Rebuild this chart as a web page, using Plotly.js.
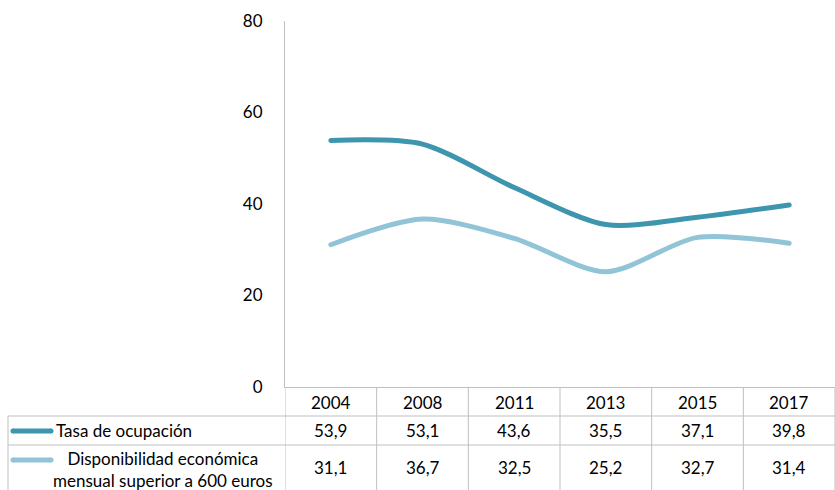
<!DOCTYPE html>
<html>
<head>
<meta charset="utf-8">
<script src="https://cdn.plot.ly/plotly-3.0.1.min.js"></script>
<style>html,body{margin:0;padding:0;background:#fff;}#chart{width:835px;height:490px;}</style>
</head>
<body>
<div id="chart"></div>
<script>
const years = ['2004', '2008', '2011', '2013', '2015', '2017'];
const tasaOcupacion = [53.9, 53.1, 43.6, 35.5, 37.1, 39.8];
const disponibilidad = [31.1, 36.7, 32.5, 25.2, 32.7, 31.4];
const seriesNames = ['Tasa de ocupación', 'Disponibilidad económica<br>mensual superior a 600 euros'];
const yTicks = [0, 20, 40, 60, 80];

const darkColor = '#3E95AE';
const lightColor = '#92C4D7';
const gridColor = '#BFBFBF';
const font = 'Lato, "Open Sans", sans-serif';
const fs = 17;

const W = 835, H = 490, L = 285, R = 0, T = 21, B = 103;
const pw = W - L - R, ph = H - T - B;
const px = x => (x - L) / pw;
const py = y => (H - B - y) / ph;

const yRow1 = 416, yRow2 = 445, yBottom = 490, xLeft = 8;

const shapes = [];
const annotations = [];
for (let i = 0; i <= years.length; i++) {
  shapes.push({type: 'line', xref: 'x', yref: 'paper', x0: i - 0.5, x1: i - 0.5,
    y0: py(387), y1: py(yBottom + 2), line: {color: gridColor, width: 1}});
}
[yRow1, yRow2].forEach(y => shapes.push({type: 'line', xref: 'paper', yref: 'paper',
  x0: px(xLeft), x1: 1, y0: py(y), y1: py(y), line: {color: gridColor, width: 1}}));
shapes.push({type: 'line', xref: 'paper', yref: 'paper', x0: px(xLeft), x1: px(xLeft),
  y0: py(yRow1), y1: py(yBottom + 2), line: {color: gridColor, width: 1}});

function key(yPix, color) {
  shapes.push({type: 'line', xref: 'paper', yref: 'paper', x0: px(13), x1: px(51),
    y0: py(yPix), y1: py(yPix), line: {color: color, width: 5}});
  [13, 51].forEach(xc => shapes.push({type: 'circle', xref: 'paper', yref: 'paper',
    x0: px(xc - 2.5), x1: px(xc + 2.5), y0: py(yPix + 2.5), y1: py(yPix - 2.5),
    fillcolor: color, line: {width: 0}}));
}
key(431, darkColor);
key(460, lightColor);

const tf = {family: font, size: fs, color: '#000'};
years.forEach((yr, i) => {
  annotations.push({x: i, y: py(402), xref: 'x', yref: 'paper', text: yr, showarrow: false,
    xanchor: 'center', yanchor: 'middle', font: tf});
  annotations.push({x: i, y: py(431), xref: 'x', yref: 'paper',
    text: tasaOcupacion[i].toFixed(1).replace('.', ','), showarrow: false,
    xanchor: 'center', yanchor: 'middle', font: tf});
  annotations.push({x: i, y: py(468), xref: 'x', yref: 'paper',
    text: disponibilidad[i].toFixed(1).replace('.', ','), showarrow: false,
    xanchor: 'center', yanchor: 'middle', font: tf});
});
annotations.push({x: px(54), y: py(431), xref: 'paper', yref: 'paper', text: seriesNames[0],
  xanchor: 'left', yanchor: 'middle', showarrow: false, font: tf});
annotations.push({x: px(163), y: py(469), xref: 'paper', yref: 'paper', text: seriesNames[1],
  xanchor: 'center', yanchor: 'middle', align: 'center', showarrow: false, font: tf});

const traces = [
  {x: years, y: tasaOcupacion, type: 'scatter', mode: 'lines', name: seriesNames[0],
    line: {color: darkColor, width: 5, shape: 'spline', smoothing: 0.8}},
  {x: years, y: disponibilidad, type: 'scatter', mode: 'lines', name: seriesNames[1],
    line: {color: lightColor, width: 5, shape: 'spline', smoothing: 0.8}}
];

const layout = {
  width: W, height: H,
  margin: {l: L, r: R, t: T, b: B},
  paper_bgcolor: '#fff', plot_bgcolor: '#fff',
  showlegend: false,
  font: tf,
  xaxis: {type: 'category', range: [-0.5, 5.5], showticklabels: false, ticks: '',
    showgrid: false, zeroline: false, showline: true, linecolor: gridColor, linewidth: 1,
    fixedrange: true},
  yaxis: {range: [0, 80], tickvals: yTicks, ticktext: yTicks.map(String), showgrid: false,
    zeroline: false, showline: true, linecolor: gridColor, linewidth: 1, ticks: '',
    ticklabelstandoff: 18, tickfont: tf, fixedrange: true},
  shapes: shapes,
  annotations: annotations
};

Plotly.newPlot('chart', traces, layout, {displayModeBar: false, staticPlot: true}).then(() => {
  document.querySelectorAll('.scatterlayer path.js-line').forEach(p => {
    p.style.strokeLinecap = 'round';
  });
});
</script>
</body>
</html>
